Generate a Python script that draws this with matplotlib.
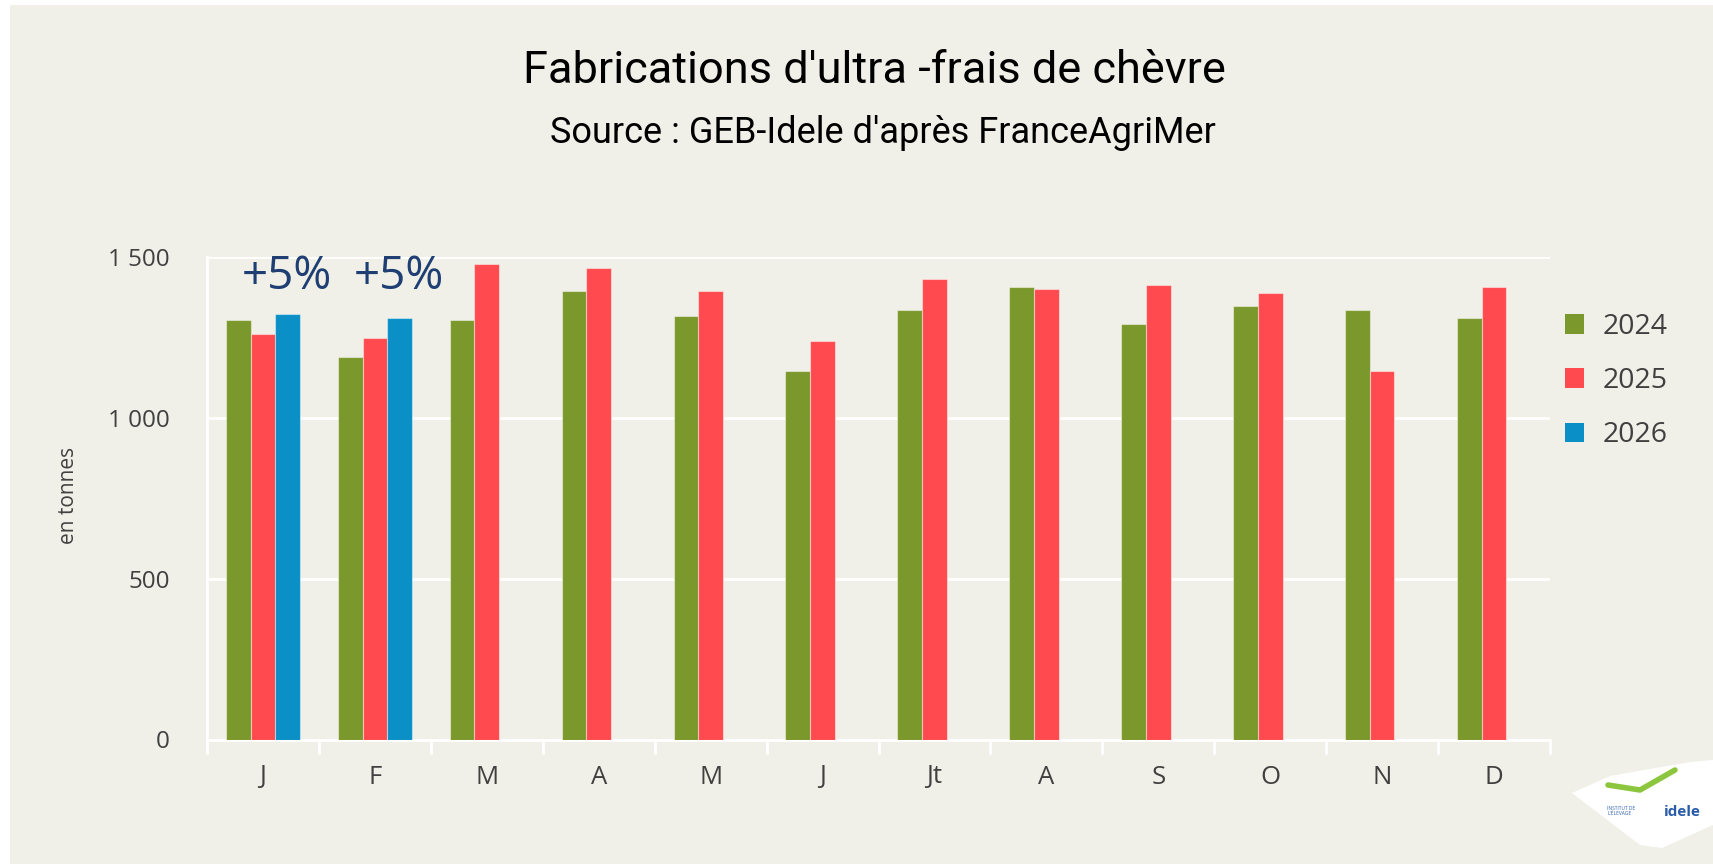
import matplotlib
matplotlib.use('Agg')
import matplotlib.pyplot as plt
from matplotlib.patches import Patch, Polygon, Rectangle

# données (tonnes)
mois = ['J', 'F', 'M', 'A', 'M', 'J', 'Jt', 'A', 'S', 'O', 'N', 'D']
annees = ['2024', '2025', '2026']
val_2024 = [1305, 1189, 1306, 1395, 1318, 1145, 1337, 1407, 1292, 1350, 1337, 1312]
val_2025 = [1260, 1248, 1478, 1466, 1395, 1241, 1434, 1401, 1415, 1389, 1145, 1409]
val_2026 = [1323, 1312]
evolutions = ['+5%', '+5%']
y_ticks = [0, 500, 1000, 1500]
y_labels = ['0', '500', '1 000', '1 500']

CORES = {'2024': '#7B982C', '2025': '#FF4B4F', '2026': '#0A90C6'}
FUNDO = '#F0F0E8'
TEXTO = '#404040'
ANOT = '#1F3F73'
BRANCO = '#FFFFFF'

W, H = 1713, 864
plt.rcParams['font.family'] = ['Open Sans', 'DejaVu Sans']

fig = plt.figure(figsize=(W / 100, H / 100), dpi=100, facecolor=BRANCO)
fig.add_artist(Rectangle((10 / W, 0), 1 - 10 / W, 1 - 5 / H, transform=fig.transFigure,
                         facecolor=FUNDO, edgecolor='none', zorder=0))

ax = fig.add_axes([207 / W, 1 - 739.5 / H, (1550 - 207) / W, (739.5 - 257.3) / H])
ax.set_facecolor('none')

largura = 0.221
x = list(range(len(mois)))
series = [val_2024, val_2025, val_2026]
for i, (ano, valores) in enumerate(zip(annees, series)):
    pos = [xi + (i - 1) * largura for xi in x[:len(valores)]]
    ax.bar(pos, valores, width=largura, color=CORES[ano], label=ano,
           edgecolor=(1, 1, 1, 0.45), linewidth=0.8, zorder=3)

for xi, txt in zip(x, evolutions):
    ax.text(xi + 0.21, 1440, txt, ha='center', va='center', fontsize=33,
            color=ANOT, zorder=4)

ax.set_xlim(-0.5, len(mois) - 0.5)
ax.set_ylim(0, 1500)
ax.set_yticks(y_ticks)
ax.set_yticklabels(y_labels)
ax.tick_params(axis='y', length=0, pad=27, labelsize=17.5, labelcolor=TEXTO)

# séparateurs entre mois + étiquettes au centre
ax.set_xticks([xi - 0.5 for xi in x] + [len(mois) - 0.5])
ax.set_xticklabels([])
ax.tick_params(axis='x', which='major', length=10, width=2, color=BRANCO, direction='out')
ax.set_xticks(x, minor=True)
ax.set_xticklabels(mois, minor=True)
ax.tick_params(axis='x', which='minor', length=0, pad=18, labelsize=18.5, labelcolor=TEXTO)

ax.grid(axis='y', color=BRANCO, linewidth=2, zorder=1)
ax.set_axisbelow(True)
for lado in ['top', 'right']:
    ax.spines[lado].set_visible(False)
for lado in ['left', 'bottom']:
    ax.spines[lado].set_color(BRANCO)
    ax.spines[lado].set_linewidth(2)

fig.text(68 / W, 1 - 495 / H, 'en tonnes', rotation=90, ha='center', va='center',
         fontsize=15, color=TEXTO)

titre_font = ['Roboto', 'Open Sans', 'DejaVu Sans']
fig.text(874.5 / W, 1 - 83 / H, "Fabrications d'ultra -frais de chèvre", ha='center',
         va='baseline', fontsize=32.5, color='black', family=titre_font)
fig.text(882.5 / W, 1 - 143 / H, "Source : GEB-Idele d'après FranceAgriMer", ha='center',
         va='baseline', fontsize=26, color='black', family=titre_font)

handles = [Patch(facecolor=CORES[a], edgecolor='none', label=a) for a in annees]
ax.legend(handles=handles, loc='center left', bbox_to_anchor=(1565 / W, 1 - 381 / H),
          bbox_transform=fig.transFigure, frameon=False, fontsize=20.5,
          handlelength=0.67, handleheight=0.67, handletextpad=0.65, labelspacing=0.92,
          borderpad=0, borderaxespad=0, labelcolor=TEXTO)

# logo idele (approximatif)
pts = [(1572, 793), (1610, 776), (1690, 762), (1713, 760), (1713, 825), (1662, 848), (1640, 845)]
fig.add_artist(Polygon([(px / W, 1 - py / H) for px, py in pts], closed=True,
                       transform=fig.transFigure, facecolor=BRANCO, edgecolor='none', zorder=1))
fig.add_artist(plt.Line2D([1608 / W, 1640 / W, 1675 / W], [1 - 785 / H, 1 - 790 / H, 1 - 770 / H],
                          transform=fig.transFigure, color='#8CC63F', linewidth=4,
                          solid_capstyle='round', zorder=2))
fig.text(1664 / W, 1 - 816 / H, 'idele', ha='left', va='baseline', fontsize=11,
         fontweight='bold', color='#2A5CAA', zorder=2)
fig.text(1607 / W, 1 - 815 / H, "INSTITUT DE\nL'ÉLEVAGE", ha='left', va='baseline',
         fontsize=3.5, color='#2A5CAA', linespacing=1.0, zorder=2)

fig.savefig('out.png', dpi=100, facecolor=fig.get_facecolor())
